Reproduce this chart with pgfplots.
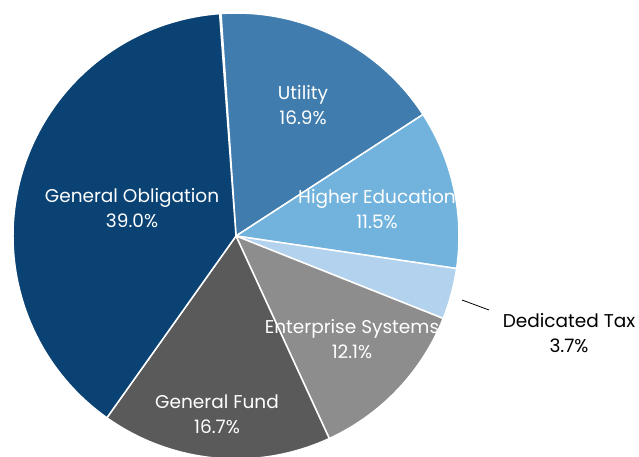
\documentclass[border=0pt]{standalone}
\usepackage{pgfplots}
\pgfplotsset{compat=1.18}
\usepackage{pgfplotstable}
\usepackage{fontspec}
\setmainfont{Poppins}

\definecolor{cGO}{HTML}{0A4274}
\definecolor{cUT}{HTML}{407DAE}
\definecolor{cHE}{HTML}{72B3DD}
\definecolor{cDT}{HTML}{B2D2ED}
\definecolor{cES}{HTML}{8D8D8D}
\definecolor{cGF}{HTML}{5A5A5A}

% share (%), slice colour, label position (x,y) in picture units
\pgfplotstableread[col sep=comma]{
name,value,col,lx,ly
Utility,16.9,cUT,303,352
Higher Education,11.5,cHE,377,248
Dedicated Tax,3.7,cDT,569,124
Enterprise Systems,12.1,cES,352,118
General Fund,16.7,cGF,217,43
General Obligation,39.0,cGO,132,249
}\pie

\begin{document}
\begin{tikzpicture}
\begin{axis}[
    width=639pt, height=457pt,
    scale only axis,
    xmin=0, xmax=639, ymin=0, ymax=457,
    hide axis,
    clip=false,
]
\pgfplotstablegetrowsof{\pie}
\pgfmathtruncatemacro{\nrows}{\pgfplotsretval-1}
\def\angstart{93.85}
\pgfplotsinvokeforeach{0,...,\nrows}{
  \pgfplotstablegetelem{#1}{value}\of{\pie}\let\val\pgfplotsretval
  \pgfplotstablegetelem{#1}{col}\of{\pie}\let\col\pgfplotsretval
  \pgfmathsetmacro{\angend}{\angstart-3.6*\val}
  \edef\temp{\noexpand\fill[\col, draw=white, line width=1.5pt, line join=round]
    (axis cs:236,221) -- ++(\angstart:223pt) arc[start angle=\angstart, end angle=\angend, radius=223pt] -- cycle;}
  \temp
  \global\let\angstart\angend
}
\pgfplotsinvokeforeach{0,...,\nrows}{
  \pgfplotstablegetelem{#1}{name}\of{\pie}\let\nm\pgfplotsretval
  \pgfplotstablegetelem{#1}{value}\of{\pie}\let\val\pgfplotsretval
  \pgfplotstablegetelem{#1}{lx}\of{\pie}\let\lx\pgfplotsretval
  \pgfplotstablegetelem{#1}{ly}\of{\pie}\let\ly\pgfplotsretval
  \ifnum#1=2 \def\tc{black}\else\def\tc{white}\fi
  \edef\temp{\noexpand\node[text=\tc, align=center, font=\noexpand\fontsize{18.5}{25}\noexpand\selectfont, inner sep=0pt]
    at (axis cs:\lx,\ly) {\nm\noexpand\\\val\noexpand\%};}
  \temp
}
\draw[black, line width=0.8pt] (axis cs:462,157) -- (axis cs:489,147);
\end{axis}
\pgfresetboundingbox
\useasboundingbox (current axis.south west) rectangle (current axis.north east);
\end{tikzpicture}
\end{document}
